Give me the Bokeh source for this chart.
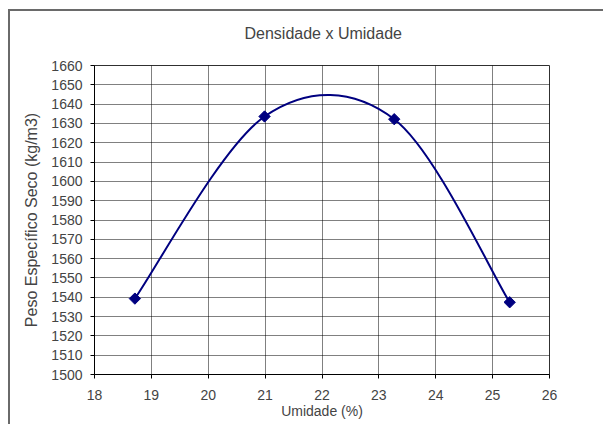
from bokeh.plotting import figure
from bokeh.embed import file_html
from bokeh.resources import INLINE
from bokeh.models import Range1d, FixedTicker, Title
from bokeh.core.properties import value

# Data
umidade = [18.71, 20.99, 23.27, 25.30]          # x, %
peso = [1539.3, 1633.6, 1632.2, 1537.4]         # y, kg/m3
x_ticks = [18, 19, 20, 21, 22, 23, 24, 25, 26]
y_ticks = list(range(1500, 1661, 10))

FONT = "Liberation Sans"
NAVY = "#000080"

p = figure(width=595, height=415, output_backend="svg", toolbar_location=None,
           x_range=Range1d(18, 26), y_range=Range1d(1500, 1660),
           min_border_left=84, min_border_right=56, min_border_top=54, min_border_bottom=52)
p.styles = {"margin-left": "8px", "margin-top": "9px",
            "border-left": "2px solid #6a6a6a", "border-top": "2px solid #6a6a6a"}

p.title.text = "Densidade x Umidade"
p.title.text_font = FONT
p.title.text_font_size = "16px"
p.title.text_font_style = "normal"
p.title.align = "left"
p.title.offset = 150
p.title.vertical_align = "bottom"
p.title.standoff = 19

# invisible spacer between title and plot area
p.add_layout(Title(text=" ", text_font_size="1px", standoff=11), "above")

p.outline_line_color = "#303030"
p.outline_line_width = 1
p.background_fill_color = "white"
p.border_fill_color = "white"

for ax in (p.xaxis[0], p.yaxis[0]):
    ax.axis_line_color = "black"
    ax.major_tick_line_color = "black"
    ax.major_tick_out = 4
    ax.major_tick_in = 0
    ax.minor_tick_line_color = None
    ax.major_label_text_font = FONT
    ax.major_label_text_font_size = "14px"
    ax.axis_label_text_font = FONT
    ax.axis_label_text_font_style = "normal"

p.xaxis.ticker = FixedTicker(ticks=x_ticks)
p.yaxis.ticker = FixedTicker(ticks=y_ticks)
p.xaxis.axis_label = "Umidade (%)"
p.yaxis.axis_label = "Peso Específico Seco (kg/m3)"
p.xaxis.axis_label_text_font_size = "14px"
p.yaxis.axis_label_text_font_size = "16px"
p.xaxis.major_label_standoff = 11
p.xaxis.axis_label_standoff = 0
p.yaxis.major_label_standoff = 8
p.yaxis.axis_label_standoff = 8

p.xgrid.ticker = FixedTicker(ticks=x_ticks)
p.ygrid.ticker = FixedTicker(ticks=y_ticks)
for g in (p.xgrid[0], p.ygrid[0]):
    g.grid_line_color = "black"
    g.grid_line_dash = "1 1"
    g.grid_line_width = 1

# Smoothed line (Excel-style Bezier smoothing through the data points)
n = len(umidade)
x0, y0, x1, y1, cx0, cy0, cx1, cy1 = [], [], [], [], [], [], [], []
for i in range(n - 1):
    xa, ya = (umidade[i - 1], peso[i - 1]) if i > 0 else (umidade[i], peso[i])
    xd, yd = (umidade[i + 2], peso[i + 2]) if i + 2 < n else (umidade[i + 1], peso[i + 1])
    x0.append(umidade[i]); y0.append(peso[i])
    x1.append(umidade[i + 1]); y1.append(peso[i + 1])
    cx0.append(umidade[i] + (umidade[i + 1] - xa) / 6)
    cy0.append(peso[i] + (peso[i + 1] - ya) / 6)
    cx1.append(umidade[i + 1] - (xd - umidade[i]) / 6)
    cy1.append(peso[i + 1] - (yd - peso[i]) / 6)

p.bezier(x0=x0, y0=y0, x1=x1, y1=y1, cx0=cx0, cy0=cy0, cx1=cx1, cy1=cy1,
         line_color=NAVY, line_width=2)
p.scatter(umidade, peso, marker="square", angle=0.7854, size=8,
          fill_color=NAVY, line_color=NAVY)

open("out.html", "w").write(file_html(p, INLINE))
